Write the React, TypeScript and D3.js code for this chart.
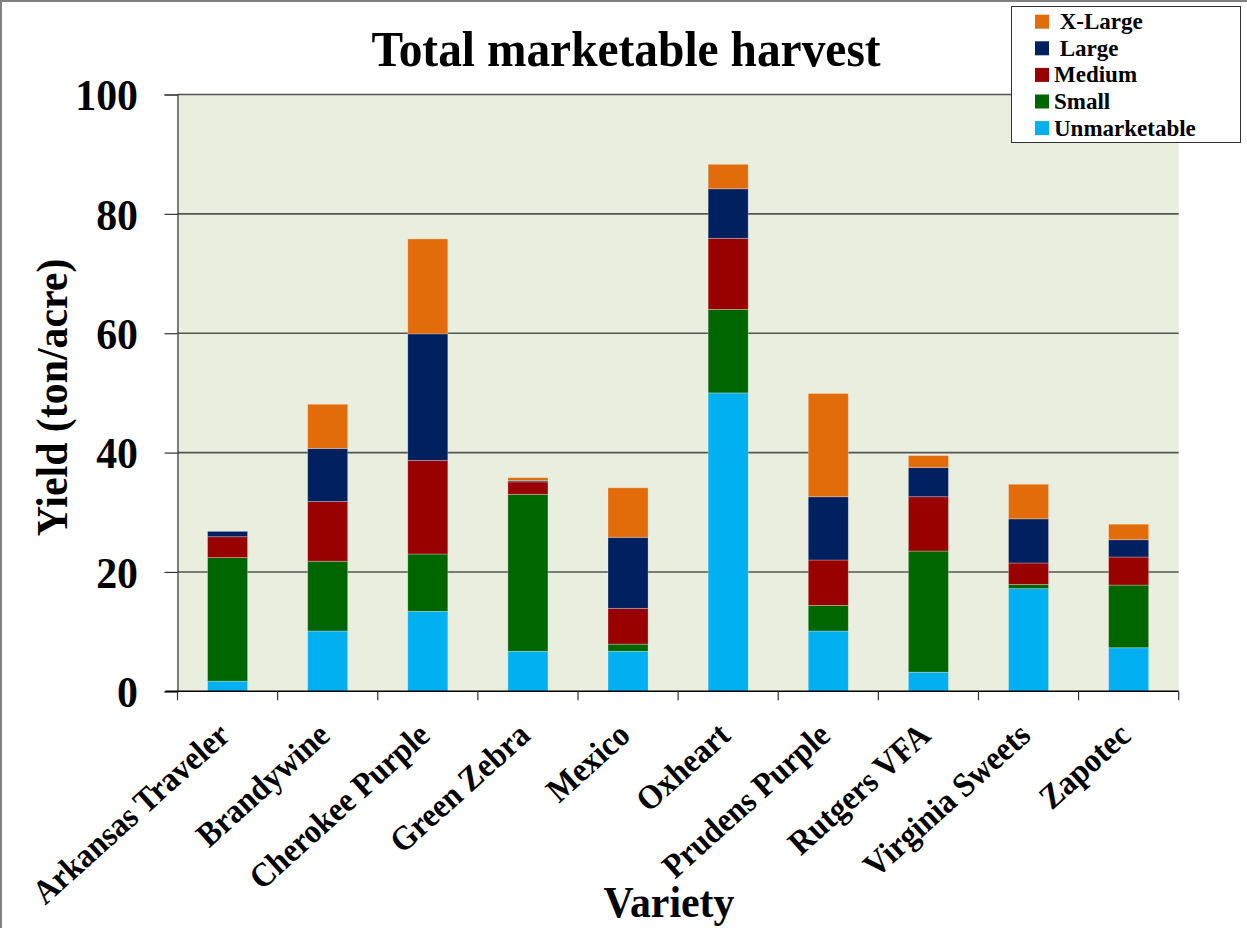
import { useRef, useEffect } from 'react';
import * as d3 from 'd3';

const varieties = ['Arkansas Traveler', 'Brandywine', 'Cherokee Purple', 'Green Zebra', 'Mexico',
  'Oxheart', 'Prudens Purple', 'Rutgers VFA', 'Virginia Sweets', 'Zapotec'];
const unmarketable = [1.7, 10.1, 13.4, 6.7, 6.7, 50.0, 10.1, 3.2, 17.2, 7.3];
const small = [20.7, 11.7, 9.6, 26.3, 1.2, 14.0, 4.3, 20.3, 0.7, 10.5];
const medium = [3.5, 10.0, 15.7, 2.1, 6.0, 11.9, 7.6, 9.1, 3.6, 4.7];
const large = [0.9, 8.9, 21.2, 0.2, 11.9, 8.3, 10.6, 4.9, 7.4, 2.9];
const xlarge = [0.0, 7.4, 15.9, 0.5, 8.3, 4.1, 17.3, 2.0, 5.8, 2.6];
const seriesKeys = ['Unmarketable', 'Small', 'Medium', 'Large', 'X-Large'];
const seriesColors = ['#00B0F0', '#006600', '#990000', '#002060', '#E36C0A'];
const legendLabels = [' X-Large', ' Large', 'Medium', 'Small', 'Unmarketable'];
const yTicks = [0, 20, 40, 60, 80, 100];

const FONT = '"Liberation Serif", "Times New Roman", serif';
// glyphs in the original look a bit narrow / tall
const SQ = 0.93;

const App = () => {
  const svgRef = useRef<SVGSVGElement>(null);

  useEffect(() => {
    const w = 1247;
    const h = 928;
    const svg = d3.select(svgRef.current);
    svg.selectAll('*').remove();
    svg.attr('width', w).attr('height', h).style('font-family', FONT);

    // outer chart border (only top/left visible)
    svg.append('rect')
      .attr('x', 1).attr('y', 1).attr('width', w + 20).attr('height', h + 20)
      .attr('fill', '#fff').attr('stroke', '#808080').attr('stroke-width', 2);

    const left = 177.5, right = 1178.7, top = 94.5, bottom = 691.3;

    const x = d3.scaleBand<string>()
      .domain(varieties)
      .range([left, right])
      .paddingInner(0.6)
      .paddingOuter(0.3);
    const y = d3.scaleLinear().domain([0, 100]).range([bottom, top]);

    // plot area
    svg.append('rect')
      .attr('x', left).attr('y', top)
      .attr('width', right - left).attr('height', bottom - top)
      .attr('fill', '#EAEEDE');

    // gridlines
    svg.append('g').selectAll('line')
      .data(yTicks.filter(d => d > 0))
      .enter().append('line')
      .attr('x1', left).attr('x2', right)
      .attr('y1', d => y(d)).attr('y2', d => y(d))
      .attr('stroke', '#555').attr('stroke-width', 1.6);

    // stacked bars
    const rows = varieties.map((v, i) => ({
      variety: v,
      Unmarketable: unmarketable[i],
      Small: small[i],
      Medium: medium[i],
      Large: large[i],
      'X-Large': xlarge[i],
    }));
    const stack = d3.stack<any>().keys(seriesKeys)(rows);

    svg.append('g').selectAll('g')
      .data(stack)
      .enter().append('g')
      .attr('fill', (_, i) => seriesColors[i])
      .selectAll('rect')
      .data(d => d.filter(s => s[1] - s[0] > 0))
      .enter().append('rect')
      .attr('x', d => x(d.data.variety) as number)
      .attr('width', x.bandwidth())
      .attr('y', d => y(d[1]))
      .attr('height', d => y(d[0]) - y(d[1]))
      .attr('stroke', 'rgba(255,255,255,0.35)')
      .attr('stroke-width', 0.8);

    // y axis
    const yAxis = d3.axisLeft(y).tickValues(yTicks).tickSize(13).tickFormat(d3.format('d'));
    const yg = svg.append('g')
      .attr('transform', `translate(${left},0)`)
      .call(yAxis);
    yg.select('.domain').attr('stroke', '#333').attr('stroke-width', 1.2);
    yg.selectAll('.tick line').attr('stroke', '#333').attr('stroke-width', 1.2);
    yg.selectAll('.tick text')
      .attr('x', -39.5 / SQ)
      .attr('dy', '0.34em')
      .attr('transform', `scale(${SQ},1)`)
      .style('font-family', FONT)
      .style('font-size', '45px')
      .style('font-weight', 'bold')
      .attr('fill', '#000');

    // x axis line + category boundary ticks
    const boundaries = d3.range(varieties.length + 1).map(i => left + i * x.step());
    svg.append('line')
      .attr('x1', left - 12).attr('x2', right)
      .attr('y1', bottom).attr('y2', bottom)
      .attr('stroke', '#000').attr('stroke-width', 1.5);
    svg.append('g').selectAll('line')
      .data(boundaries)
      .enter().append('line')
      .attr('x1', d => d).attr('x2', d => d)
      .attr('y1', bottom).attr('y2', bottom + 9)
      .attr('stroke', '#333').attr('stroke-width', 1.2);

    // category labels
    svg.append('g').selectAll('text')
      .data(varieties)
      .enter().append('text')
      .attr('transform', d => `translate(${(x(d) as number) + x.bandwidth() / 2 + 4},${738}) rotate(-42) scale(${SQ},1)`)
      .attr('text-anchor', 'end')
      .style('font-size', '34px')
      .style('font-weight', 'bold')
      .text(d => d);

    // title
    svg.append('text')
      .attr('transform', `translate(626,66) scale(${SQ},1)`)
      .attr('text-anchor', 'middle')
      .style('font-size', '51px')
      .style('font-weight', 'bold')
      .text('Total marketable harvest');

    // axis titles
    svg.append('text')
      .attr('transform', `translate(67,397.5) rotate(-90) scale(${SQ},1)`)
      .attr('text-anchor', 'middle')
      .style('font-size', '45px')
      .style('font-weight', 'bold')
      .text('Yield (ton/acre)');
    svg.append('text')
      .attr('transform', `translate(669,917) scale(${SQ},1)`)
      .attr('text-anchor', 'middle')
      .style('font-size', '45px')
      .style('font-weight', 'bold')
      .text('Variety');

    // legend
    const lg = svg.append('g');
    lg.append('rect')
      .attr('x', 1011.5).attr('y', 6.5).attr('width', 229).attr('height', 136)
      .attr('fill', '#fff').attr('stroke', '#333').attr('stroke-width', 1);
    const legendColors = seriesColors.slice().reverse();
    const items = lg.selectAll('g.item')
      .data(legendLabels)
      .enter().append('g')
      .attr('class', 'item')
      .attr('transform', (_, i) => `translate(0,${21.7 + i * 26.6})`);
    items.append('rect')
      .attr('x', 1035).attr('y', -7).attr('width', 14).attr('height', 14)
      .attr('fill', (_, i) => legendColors[i]);
    items.append('text')
      .attr('transform', 'translate(1054,7.5)')
      .style('font-size', '23px')
      .style('font-weight', 'bold')
      .style('white-space', 'pre')
      .text(d => d);
  }, []);

  return (
    <div>
      <svg ref={svgRef} style={{ position: 'absolute', left: 0, top: 0 }}></svg>
    </div>
  );
};

export default App;
